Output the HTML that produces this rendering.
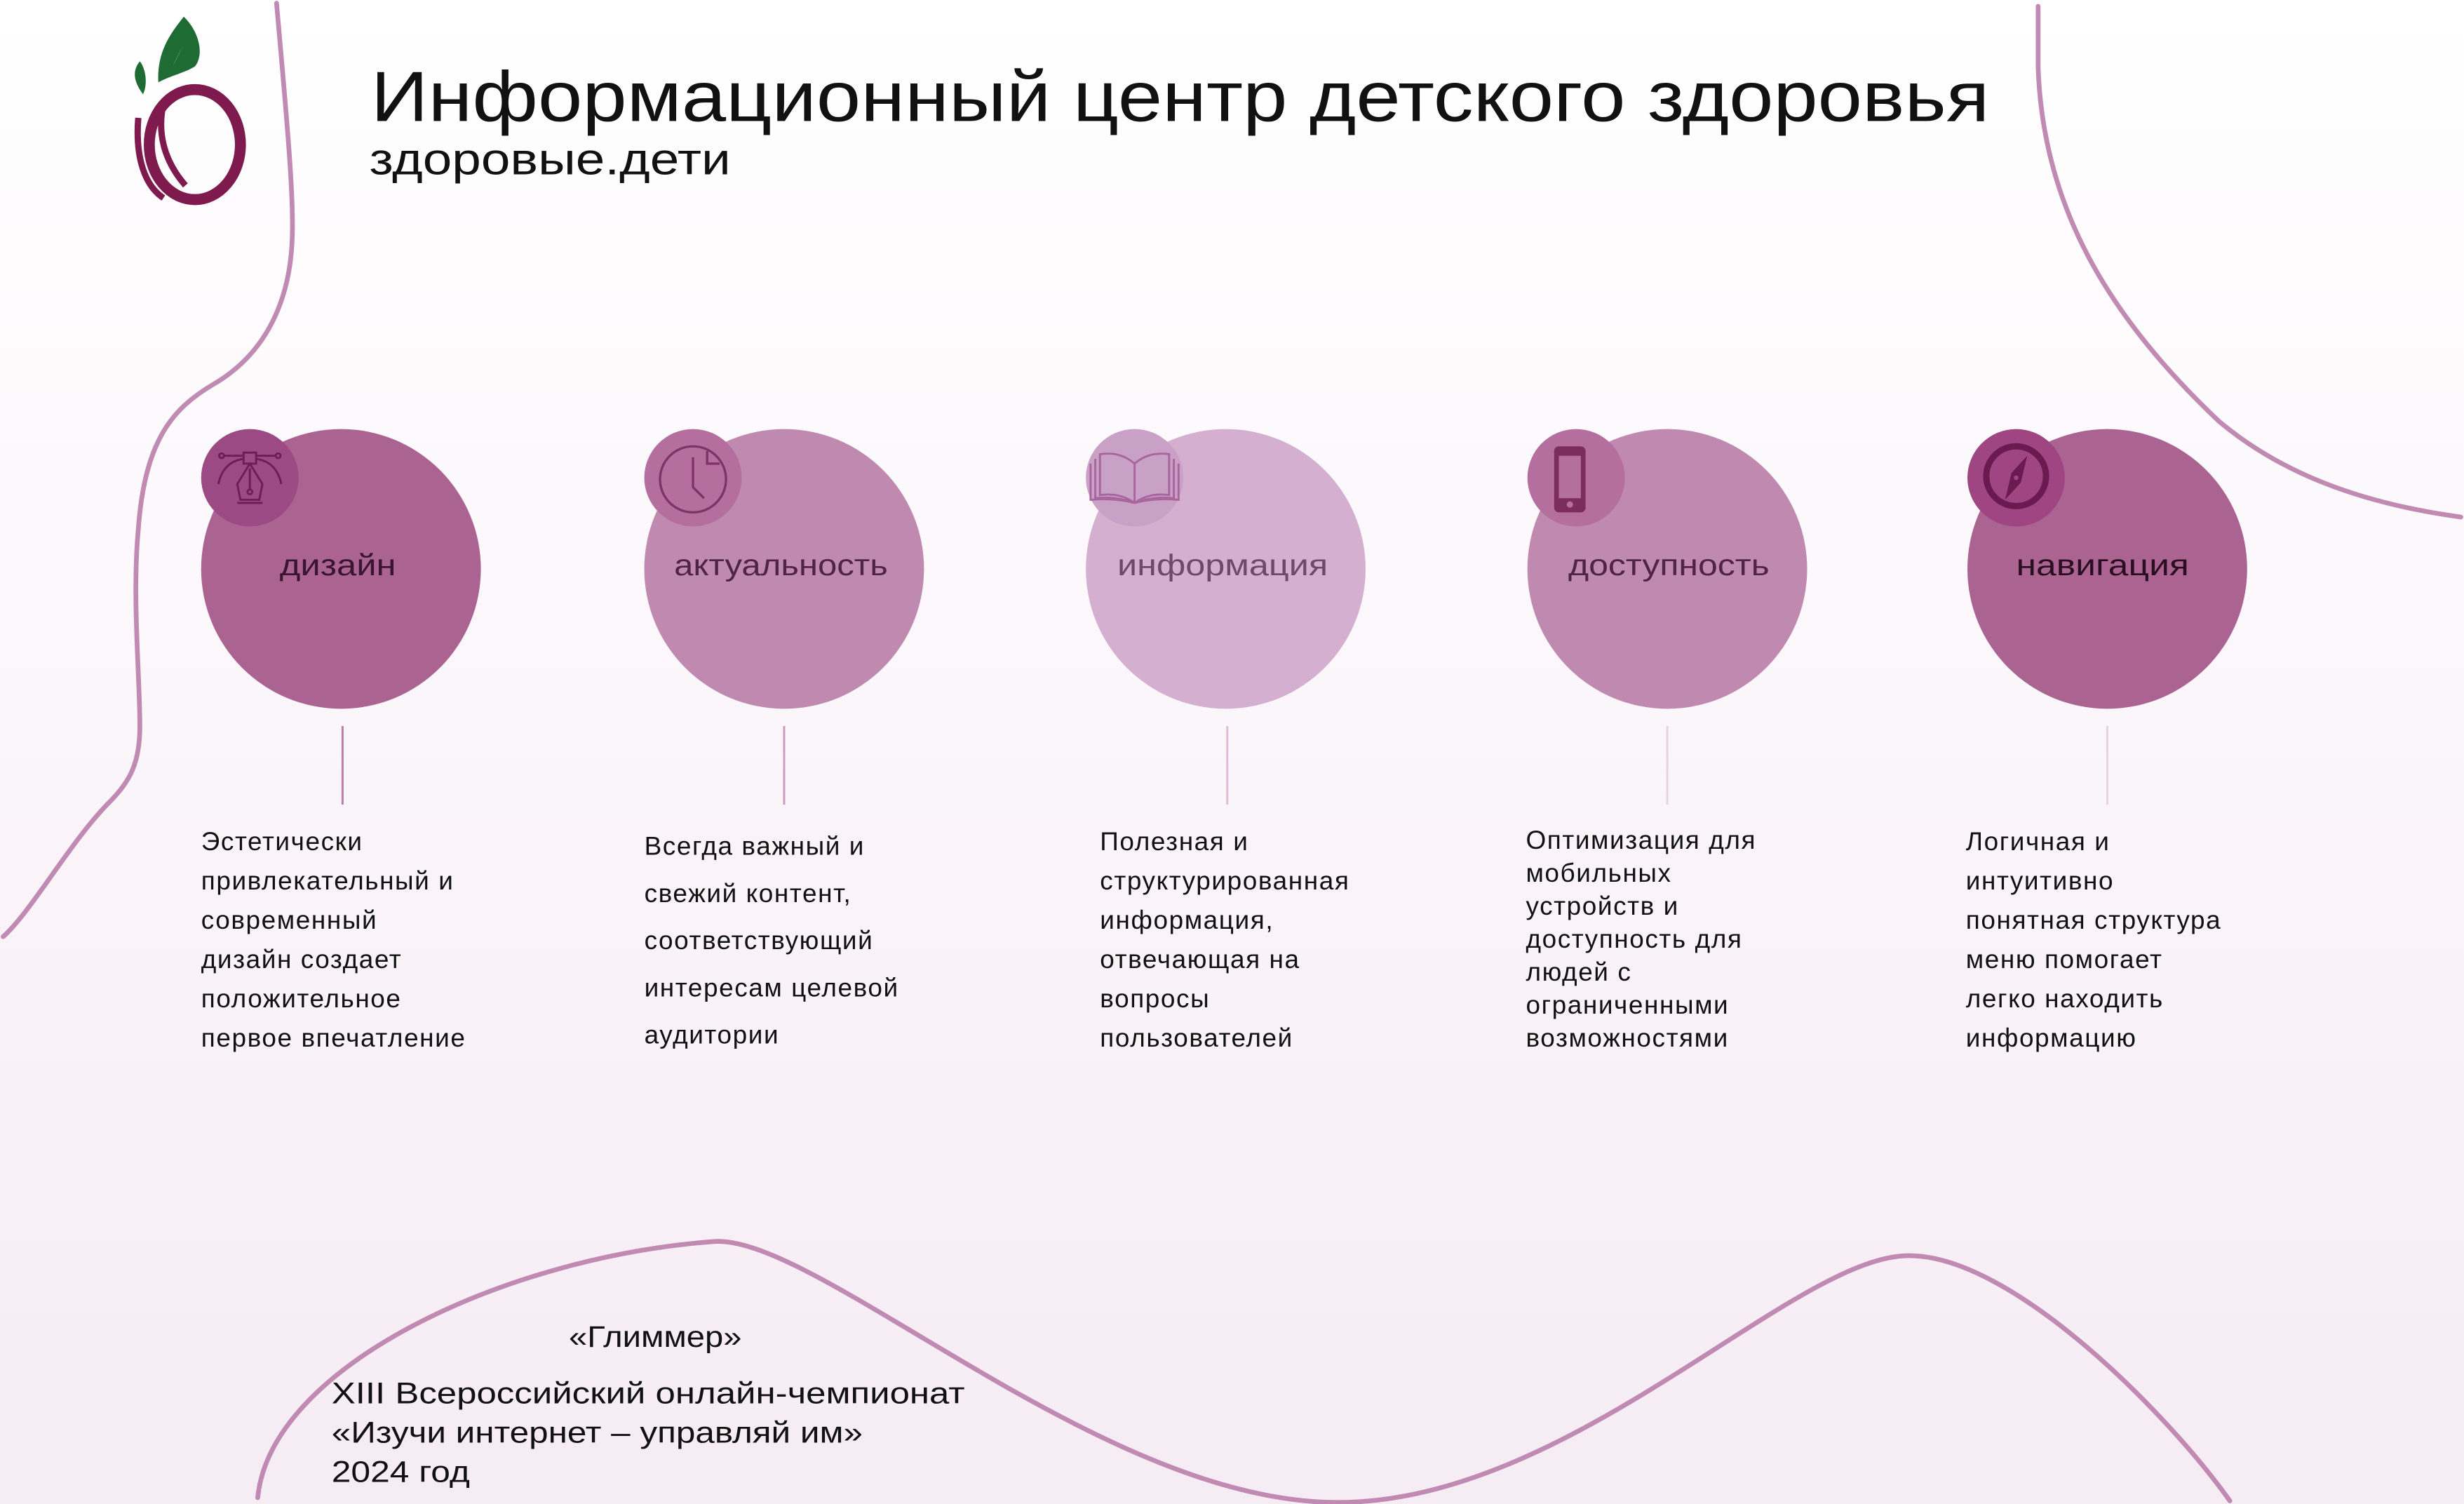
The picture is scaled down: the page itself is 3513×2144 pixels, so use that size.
<!DOCTYPE html>
<html><head><meta charset="utf-8"><style>
html,body{margin:0;padding:0;width:3513px;height:2144px;overflow:hidden}
svg{display:block}
text{font-family:"Liberation Sans",sans-serif}
</style></head><body>
<svg width="3513" height="2144" viewBox="0 0 1568 957" preserveAspectRatio="none" xmlns="http://www.w3.org/2000/svg">
<defs><linearGradient id="bg" x1="0" y1="0" x2="0" y2="1">
<stop offset="0" stop-color="#ffffff"/><stop offset="1" stop-color="#f6ecf4"/></linearGradient></defs>
<rect width="1568" height="957" fill="url(#bg)"/>
<!-- curves -->
<g fill="none" stroke="#c08ab2" stroke-width="3" stroke-linecap="round">
<path d="M176,2 C181,60 187,120 186,150 C185,190 170,225 135,245 C110,260 92,280 88,337 C84,380 89,430 89,462 C89,485 83,497 70,510 C45,535 20,580 2,596"/>
<path d="M1297,4 L1297,43 C1300,130 1340,200 1412,268 C1450,300 1500,320 1566,329"/>
<path d="M164,953 C172,870 320,800 454,790 C520,785 700,956 851,956 C1000,956 1140,800 1214,799 C1280,798 1380,900 1419,955"/>
</g>
<!-- logo -->
<path d="M117,11 C108,22 100,34 101,52 C108,48 118,46 124,42 C130,34 126,20 117,11 Z M109,44 C112,36 116,30 119,24" fill="#1e6b34" stroke="#1e6b34" stroke-width="0.5"/>
<path d="M89,39 C84,45 85,52 91,60 C94,54 93,44 89,39 Z" fill="#1e6b34"/>
<ellipse cx="124" cy="92" rx="29" ry="35" fill="none" stroke="#7f1a4e" stroke-width="7"/>
<path d="M104,66 C100,84 104,102 118,118" fill="none" stroke="#7f1a4e" stroke-width="4"/>
<path d="M88,75 C86,100 92,118 104,126" fill="none" stroke="#7f1a4e" stroke-width="4"/>
<!-- title -->
<text x="236" y="77" font-size="45" fill="#111" textLength="1030" lengthAdjust="spacingAndGlyphs">Информационный центр детского здоровья</text>
<text x="235" y="111" font-size="28" fill="#111" textLength="230" lengthAdjust="spacingAndGlyphs">здоровые.дети</text>
<!-- circles -->
<g>
<circle cx="217" cy="362" r="89" fill="#ab6492"/><circle cx="159" cy="304" r="31" fill="#9c4a83"/>
<circle cx="499" cy="362" r="89" fill="#c089b0"/><circle cx="441" cy="304" r="31" fill="#b56f9f"/>
<circle cx="780" cy="362" r="89" fill="#d4afcf"/><circle cx="722" cy="304" r="31" fill="#c9a0c6"/>
<circle cx="1061" cy="362" r="89" fill="#c089b0"/><circle cx="1003" cy="304" r="31" fill="#b56f9f"/>
<circle cx="1341" cy="362" r="89" fill="#ab6492"/><circle cx="1283" cy="304" r="31" fill="#9e4582"/>
</g>
<!-- icons -->
<g fill="none" stroke="#6b1f52" stroke-width="1.3">
<rect x="155" y="288" width="8" height="7"/>
<path d="M139,308 C141,298 147,293 155,292 M163,292 C171,293 177,298 179,308"/>
<circle cx="141" cy="290" r="1.5"/><circle cx="177" cy="290" r="1.5"/><path d="M143,290 H155 M163,290 H175"/>
<path d="M159,295 L151,308 L153,318 H165 L167,308 Z M159,298 V312"/><circle cx="159" cy="313" r="1.5"/><path d="M151,320 H167"/>
</g>
<g fill="none" stroke="#7e3466" stroke-width="1.5">
<circle cx="441" cy="305" r="21"/><path d="M441,291 V310 L448,317"/><path d="M450,287 V295 H458"/>
</g>
<g fill="none" stroke="#a9669c" stroke-width="1.3">
<path d="M722,295 C715,289 708,288 700,289 V315 C708,314 715,315 722,320 C729,315 736,314 744,315 V289 C736,288 729,289 722,295 Z M722,295 V320"/>
<path d="M697,292 V317 C705,316 714,317 722,320 C730,317 739,316 747,317 V292"/>
<path d="M694,295 V318 C705,317 714,318 722,320 C730,318 739,317 750,318 V295"/>
</g>
<g><rect x="989" y="284" width="20" height="42" rx="3" fill="#7a2d5e"/><rect x="992" y="290" width="14" height="27" fill="#b56f9f"/><circle cx="999" cy="321" r="2" fill="#b56f9f"/></g>
<g><circle cx="1283" cy="303" r="19" fill="none" stroke="#6b1a4f" stroke-width="4"/><path d="M1290,290 L1286,307 L1276,318 L1280,301 Z" fill="#6b1a4f"/><circle cx="1283" cy="304" r="1.5" fill="#9e4582"/></g>
<!-- labels -->
<g font-size="19" text-anchor="middle">
<text x="215" y="366" fill="#3a1530" textLength="74" lengthAdjust="spacingAndGlyphs">дизайн</text>
<text x="497" y="366" fill="#4f2445" textLength="136" lengthAdjust="spacingAndGlyphs">актуальность</text>
<text x="778" y="366" fill="#6e4a68" textLength="134" lengthAdjust="spacingAndGlyphs">информация</text>
<text x="1062" y="366" fill="#4f2445" textLength="128" lengthAdjust="spacingAndGlyphs">доступность</text>
<text x="1338" y="366" fill="#2a0f22" textLength="110" lengthAdjust="spacingAndGlyphs">навигация</text>
</g>
<!-- connectors -->
<g stroke-width="1.3">
<line x1="218" y1="462" x2="218" y2="512" stroke="#c07aa8"/>
<line x1="499" y1="462" x2="499" y2="512" stroke="#cc98bd"/>
<line x1="781" y1="462" x2="781" y2="512" stroke="#dcbcd6"/>
<line x1="1061" y1="462" x2="1061" y2="512" stroke="#e6d2e2"/>
<line x1="1341" y1="462" x2="1341" y2="512" stroke="#e6d2e2"/>
</g>
<!-- descriptions -->
<g font-size="16.5" fill="#111" letter-spacing="0.7">
<text x="128" y="541">Эстетически</text>
<text x="128" y="566">привлекательный и</text>
<text x="128" y="591">современный</text>
<text x="128" y="616">дизайн создает</text>
<text x="128" y="641">положительное</text>
<text x="128" y="666">первое впечатление</text>

<text x="410" y="544">Всегда важный и</text>
<text x="410" y="574">свежий контент,</text>
<text x="410" y="604">соответствующий</text>
<text x="410" y="634">интересам целевой</text>
<text x="410" y="664">аудитории</text>

<text x="700" y="541">Полезная и</text>
<text x="700" y="566">структурированная</text>
<text x="700" y="591">информация,</text>
<text x="700" y="616">отвечающая на</text>
<text x="700" y="641">вопросы</text>
<text x="700" y="666">пользователей</text>

<text x="971" y="540">Оптимизация для</text>
<text x="971" y="561">мобильных</text>
<text x="971" y="582">устройств и</text>
<text x="971" y="603">доступность для</text>
<text x="971" y="624">людей с</text>
<text x="971" y="645">ограниченными</text>
<text x="971" y="666">возможностями</text>

<text x="1251" y="541">Логичная и</text>
<text x="1251" y="566">интуитивно</text>
<text x="1251" y="591">понятная структура</text>
<text x="1251" y="616">меню помогает</text>
<text x="1251" y="641">легко находить</text>
<text x="1251" y="666">информацию</text>
</g>
<!-- footer -->
<g font-size="19" fill="#111">
<text x="417" y="857" text-anchor="middle" textLength="110" lengthAdjust="spacingAndGlyphs">«Глиммер»</text>
<text x="211" y="893" textLength="403" lengthAdjust="spacingAndGlyphs">XIII Всероссийский онлайн-чемпионат</text>
<text x="211" y="918" textLength="338" lengthAdjust="spacingAndGlyphs">«Изучи интернет – управляй им»</text>
<text x="211" y="943" textLength="88" lengthAdjust="spacingAndGlyphs">2024 год</text>
</g>
</svg>
</body></html>
